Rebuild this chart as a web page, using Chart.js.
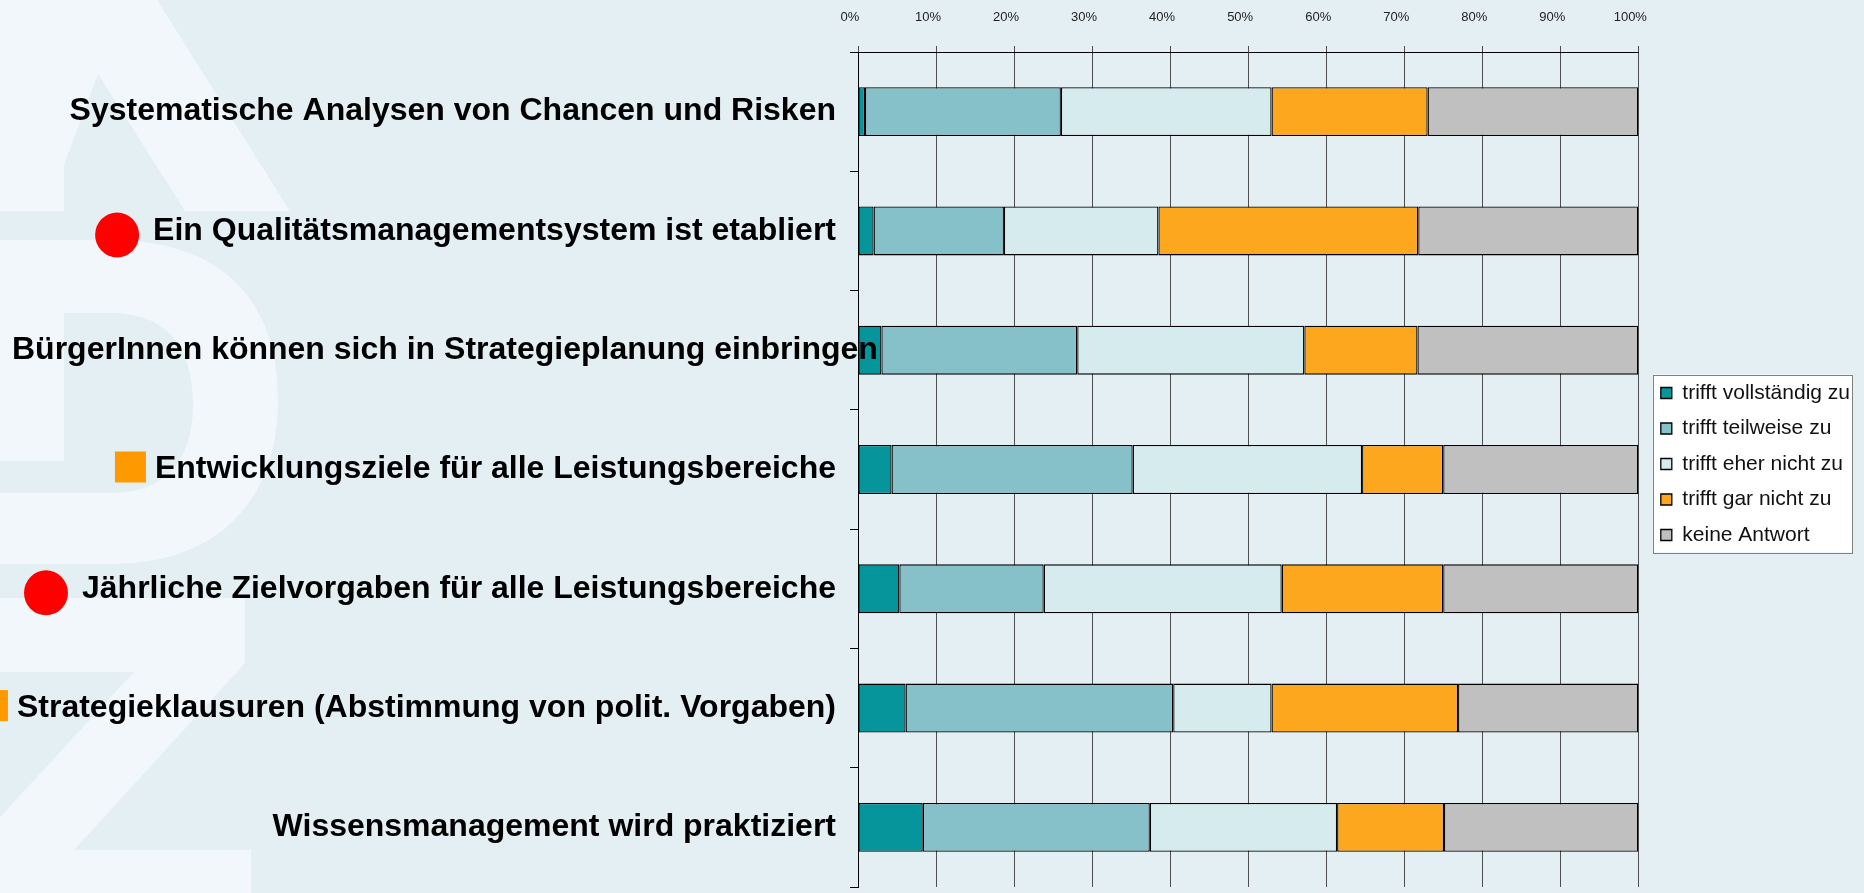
<!DOCTYPE html>
<html lang="de">
<head>
<meta charset="utf-8">
<title>Strategie und Steuerung</title>
<script src="https://cdn.jsdelivr.net/npm/chart.js@4.4.1/dist/chart.umd.min.js"></script>
<style>
    html, body {
        margin: 0;
        padding: 0;
        background: #e4eff4;
        overflow: hidden;
    }
    #chart-wrap {
        width: 1864px;
        height: 893px;
    }
</style>
</head>
<body>
<div id="chart-wrap">
    <canvas id="survey-chart" width="1864" height="893"></canvas>
</div>
<script>
// Survey items (top to bottom)
const categories = [
    'Systematische Analysen von Chancen und Risken',
    'Ein Qualitätsmanagementsystem ist etabliert',
    'BürgerInnen können sich in Strategieplanung einbringen',
    'Entwicklungsziele für alle Leistungsbereiche',
    'Jährliche Zielvorgaben für alle Leistungsbereiche',
    'Strategieklausuren (Abstimmung von polit. Vorgaben)',
    'Wissensmanagement wird praktiziert'
];

// marker shown in front of some items
const markers = [null, 'circle', null, 'square', 'circle', 'square', null];

const answerLabels = [
    'trifft vollständig zu',
    'trifft teilweise zu',
    'trifft eher nicht zu',
    'trifft gar nicht zu',
    'keine Antwort'
];

// shares in percent, one value per item
const vollstaendig = [0.9, 2.0, 3.0, 4.3, 5.3, 6.1, 8.3];
const teilweise = [25.1, 16.7, 25.1, 30.9, 18.5, 34.3, 29.1];
const eherNicht = [27.0, 19.8, 29.1, 29.4, 30.5, 12.6, 24.0];
const garNicht = [20.0, 33.3, 14.5, 10.4, 20.7, 23.9, 13.7];
const keineAntwort = [27.0, 28.2, 28.3, 25.0, 25.0, 23.1, 24.9];

const percentTicks = [0, 10, 20, 30, 40, 50, 60, 70, 80, 90, 100];

const answerColors = ['#05959b', '#86c1ca', '#d6ebee', '#fda71e', '#c0c0c0'];

const FONT = '"Liberation Sans", Arial, Helvetica, sans-serif';
const LABEL_RIGHT = 836; // right edge of the item texts
const LABEL_MIN_LEFT = 12;

Chart.defaults.font.family = FONT;

// light letters in the slide background
const watermarkPlugin = {
    id: 'watermark',
    beforeDraw(chart) {
        const ctx = chart.ctx;
        ctx.save();
        ctx.fillStyle = '#f1f7fa';

        // "A"
        ctx.beginPath();
        ctx.moveTo(0, 0);
        ctx.lineTo(157, 0);
        ctx.lineTo(290, 211);
        ctx.lineTo(185, 211);
        ctx.lineTo(98, 74);
        ctx.lineTo(64, 165);
        ctx.lineTo(64, 211);
        ctx.lineTo(0, 211);
        ctx.closePath();
        ctx.fill();

        // "D" with its counter cut out
        ctx.beginPath();
        ctx.moveTo(0, 240);
        ctx.lineTo(110, 240);
        ctx.bezierCurveTo(240, 240, 280, 320, 278, 404);
        ctx.bezierCurveTo(276, 500, 220, 564, 110, 564);
        ctx.lineTo(0, 564);
        ctx.closePath();
        ctx.moveTo(64, 313);
        ctx.lineTo(64, 461);
        ctx.lineTo(0, 461);
        ctx.lineTo(0, 493);
        ctx.lineTo(110, 493);
        ctx.bezierCurveTo(175, 493, 193, 450, 193, 404);
        ctx.bezierCurveTo(193, 350, 170, 313, 110, 313);
        ctx.closePath();
        ctx.fill('evenodd');

        // "Z"
        ctx.beginPath();
        ctx.moveTo(0, 598);
        ctx.lineTo(245, 598);
        ctx.lineTo(245, 663);
        ctx.lineTo(74, 850);
        ctx.lineTo(251, 850);
        ctx.lineTo(251, 893);
        ctx.lineTo(0, 893);
        ctx.lineTo(0, 817);
        ctx.lineTo(134, 672);
        ctx.lineTo(0, 672);
        ctx.closePath();
        ctx.fill();

        ctx.restore();
    }
};

// white framed box behind the legend entries
const legendFramePlugin = {
    id: 'legendFrame',
    beforeDraw(chart) {
        const boxes = chart.legend && chart.legend.legendHitBoxes;
        if (!boxes || !boxes.length) return;
        const left = Math.min(...boxes.map(b => b.left)) - 8;
        const right = Math.max(...boxes.map(b => b.left + b.width)) + 2;
        const top = boxes[0].top - 8;
        const bottom = boxes[boxes.length - 1].top + boxes[boxes.length - 1].height + 7;
        const ctx = chart.ctx;
        ctx.save();
        ctx.fillStyle = '#ffffff';
        ctx.fillRect(left, top, right - left, bottom - top);
        ctx.strokeStyle = '#808080';
        ctx.lineWidth = 1;
        ctx.strokeRect(Math.round(left) + 0.5, Math.round(top) + 0.5, Math.round(right - left), Math.round(bottom - top));
        ctx.restore();
    }
};

// big bold item texts left of the bars, plus the red / orange markers
const itemLabelsPlugin = {
    id: 'itemLabels',
    afterDraw(chart) {
        const ctx = chart.ctx;
        const yScale = chart.scales.y;
        ctx.save();
        ctx.font = 'bold 32px ' + FONT;
        ctx.fillStyle = '#000000';
        ctx.textBaseline = 'middle';
        ctx.textAlign = 'left';

        categories.forEach((label, i) => {
            const y = yScale.getPixelForValue(i);
            const width = ctx.measureText(label).width;
            // too long texts start at the slide edge and run into the plot
            const left = Math.max(LABEL_RIGHT - width, LABEL_MIN_LEFT);
            ctx.fillText(label, left, y);

            if (markers[i] === 'circle') {
                ctx.fillStyle = '#ff0000';
                ctx.beginPath();
                ctx.ellipse(left - 36, y + 4, 22, 22.5, 0, 0, Math.PI * 2);
                ctx.fill();
                ctx.fillStyle = '#000000';
            } else if (markers[i] === 'square') {
                ctx.fillStyle = '#ff9900';
                ctx.fillRect(left - 9 - 31, y - 18, 31, 31);
                ctx.fillStyle = '#000000';
            }
        });
        ctx.restore();
    }
};

function buildDatasets() {
    const series = [vollstaendig, teilweise, eherNicht, garNicht, keineAntwort];
    return series.map((values, idx) => {
        return {
            label: answerLabels[idx],
            data: values,
            backgroundColor: answerColors[idx],
            borderColor: '#000000',
            borderWidth: 1.3,
            borderSkipped: false,
            barPercentage: 0.41,
            categoryPercentage: 1.0
        };
    });
}

let config = {
    type: 'bar',
    data: {
        labels: categories,
        datasets: buildDatasets()
    },
    plugins: [watermarkPlugin, legendFramePlugin, itemLabelsPlugin],
    options: {
        indexAxis: 'y',
        responsive: false,
        animation: false,
        layout: {
            padding: {top: 0, bottom: 6, left: 0, right: 4}
        },
        scales: {
            x: {
                type: 'linear',
                position: 'top',
                stacked: true,
                min: 0,
                max: 100,
                afterBuildTicks: (scale) => {
                    scale.ticks = percentTicks.map(v => ({value: v}));
                },
                afterFit: (scale) => {
                    scale.height = 52;
                },
                ticks: {
                    callback: (value) => value + '%',
                    font: {size: 13},
                    color: '#222222',
                    padding: 21,
                    labelOffset: -8,
                    maxRotation: 0,
                    autoSkip: false
                },
                grid: {
                    color: '#4d4d4d',
                    lineWidth: 1,
                    tickLength: 6,
                    drawOnChartArea: true
                },
                border: {
                    display: true,
                    color: '#000000',
                    width: 1
                }
            },
            y: {
                type: 'category',
                position: 'left',
                stacked: true,
                afterFit: (scale) => {
                    scale.width = 858;
                },
                ticks: {
                    display: false
                },
                grid: {
                    offset: true,
                    drawOnChartArea: false,
                    drawTicks: true,
                    tickLength: 8,
                    color: '#000000'
                },
                border: {
                    display: true,
                    color: '#000000',
                    width: 1
                }
            },
            // small gap between plot and legend
            gap: {
                type: 'linear',
                axis: 'y',
                position: 'right',
                display: true,
                ticks: {display: false},
                grid: {display: false},
                border: {display: false},
                afterFit: (scale) => {
                    scale.width = 8;
                }
            }
        },
        plugins: {
            legend: {
                position: 'right',
                align: 'center',
                // empty title only pushes the entries down a little
                title: {
                    display: true,
                    text: '',
                    padding: 0,
                    font: {size: 10, lineHeight: '41px'}
                },
                labels: {
                    boxWidth: 11,
                    boxHeight: 11,
                    padding: 14.5,
                    color: '#111111',
                    font: {size: 21}
                }
            },
            tooltip: {
                enabled: false
            }
        }
    }
};

let surveyChart = new Chart(document.getElementById('survey-chart'), config);
</script>
</body>
</html>
